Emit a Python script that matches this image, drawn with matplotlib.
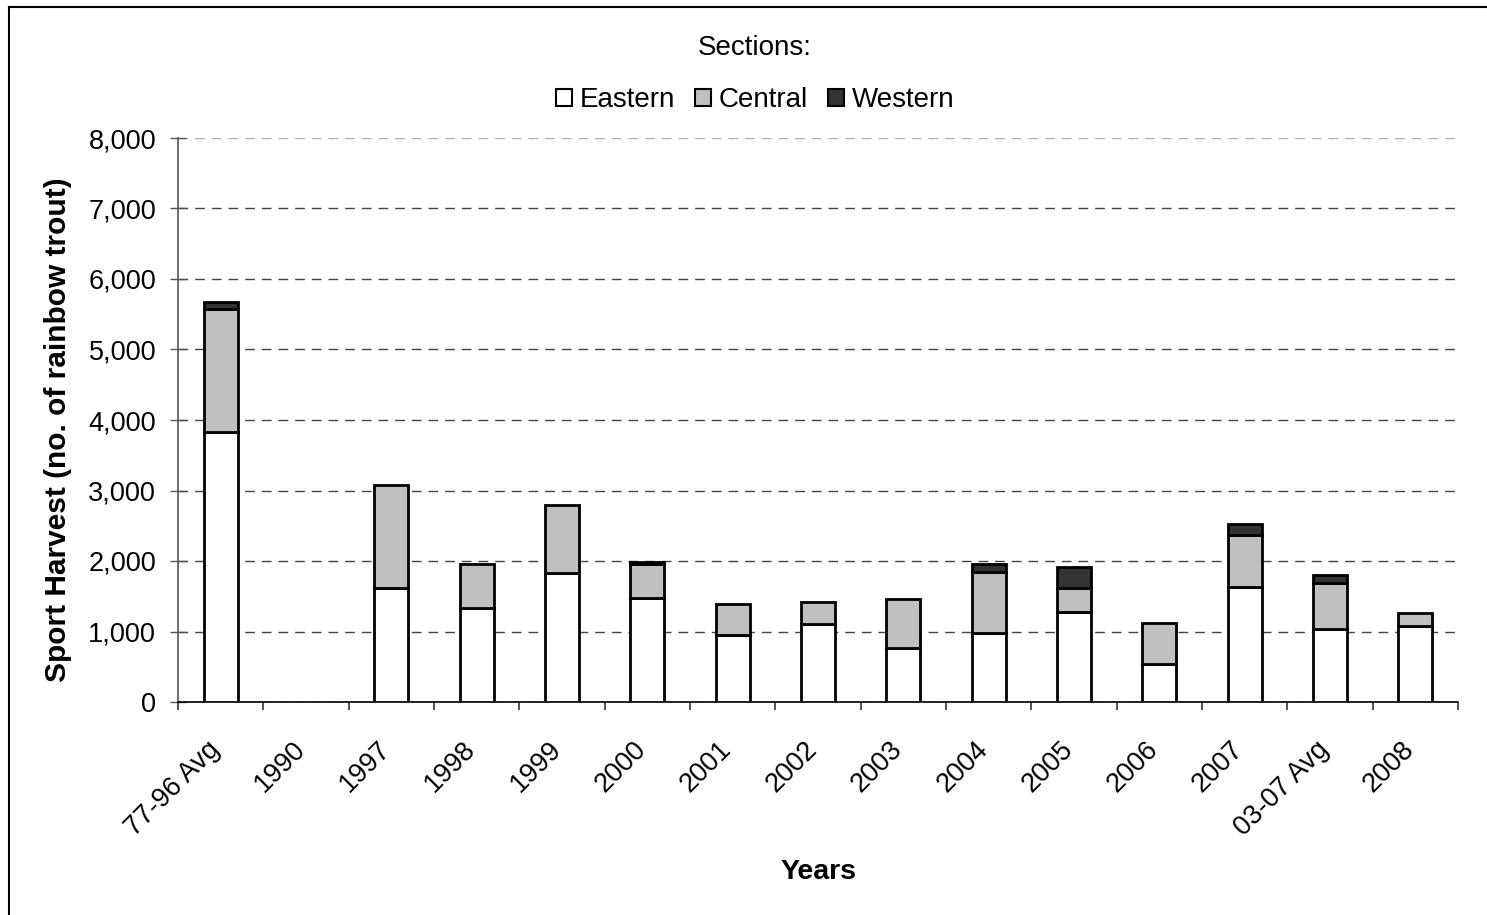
import matplotlib
matplotlib.use("Agg")
import matplotlib.pyplot as plt
import numpy as np
from matplotlib.patches import Patch
from matplotlib.lines import Line2D
from matplotlib.ticker import FuncFormatter, FixedLocator
from matplotlib.transforms import ScaledTranslation

plt.rcParams['font.family'] = ['Liberation Sans', 'DejaVu Sans']

categories = ["77-96 Avg", "1990", "1997", "1998", "1999", "2000", "2001", "2002",
              "2003", "2004", "2005", "2006", "2007", "03-07 Avg", "2008"]
eastern = [3825, 0, 1610, 1340, 1835, 1470, 945, 1105, 770, 985, 1280, 535, 1625, 1040, 1085]
central = [1745, 0, 1470, 620, 960, 485, 450, 315, 690, 865, 330, 585, 750, 645, 180]
western = [110, 0, 0, 0, 0, 30, 0, 0, 0, 105, 305, 0, 155, 115, 0]

series = [("Eastern", eastern, "white"),
          ("Central", central, "#c0c0c0"),
          ("Western", western, "#333333")]

W, H, DPI = 1487, 915, 100
fig = plt.figure(figsize=(W / DPI, H / DPI), dpi=DPI)
ax = fig.add_axes([178 / W, 1 - 702 / H, (1458 - 178) / W, (702 - 138) / H])

x = np.arange(len(categories))
bottom = np.zeros(len(categories))
for name, vals, color in series:
    vals = np.asarray(vals, dtype=float)
    keep = vals > 0
    ax.bar(x[keep], vals[keep], width=0.4, bottom=bottom[keep], color=color,
           edgecolor="black", linewidth=2.0, zorder=3)
    bottom += vals

ax.set_xlim(-0.5, len(categories) - 0.5)
ax.set_ylim(0, 8000)
ax.set_yticks(np.arange(0, 8001, 1000))
ax.yaxis.set_major_formatter(FuncFormatter(lambda v, p: f"{int(v):,}"))

ax.set_xticks(x)
ax.set_xticklabels(categories, rotation=45, ha="right", va="baseline",
                   rotation_mode="anchor")
shift = ScaledTranslation(-11 / DPI, 0, fig.dpi_scale_trans)
for lbl in ax.get_xticklabels():
    lbl.set_transform(lbl.get_transform() + shift)
ax.xaxis.set_minor_locator(FixedLocator(np.arange(-0.5, len(categories), 1.0)))
ax.tick_params(axis="x", which="major", length=0, pad=35, labelsize=19.5)
ax.tick_params(axis="x", which="minor", length=6, width=1.2, color="#333333", direction="out")
ax.tick_params(axis="y", direction="inout", length=11.5, width=1.0, color="#555555",
               pad=10, labelsize=19.5)

ax.grid(axis="y", color="#444444", linestyle=(0, (7, 5)), linewidth=1.0, zorder=0)
ax.set_axisbelow(True)
gl = ax.get_ygridlines()
if gl:
    gl[-1].set_color("#b0b0b0")

for s in ("top", "right"):
    ax.spines[s].set_visible(False)
ax.spines["left"].set_color("#555555")
ax.spines["left"].set_linewidth(1.2)
ax.spines["bottom"].set_color("black")
ax.spines["bottom"].set_linewidth(1.2)

ax.set_ylabel("Sport Harvest (no. of rainbow trout)", fontsize=21.5, fontweight="bold")
ax.yaxis.set_label_coords((72 - 178) / (1458 - 178), (702 - 430) / (702 - 138))
ax.set_xlabel("Years", fontsize=20.5, fontweight="bold")
ax.xaxis.set_label_coords((818 - 178) / (1458 - 178), -(859 - 702) / (702 - 138))

fig.text(755 / W, 1 - 48 / H, "Sections:", fontsize=20, ha="center", va="center")
handles = [Patch(facecolor=c, edgecolor="black", linewidth=1.5, label=n) for n, _, c in series]
fig.legend(handles=handles, loc="center", bbox_to_anchor=(755.5 / W, 1 - 100 / H), ncol=3,
           frameon=False, fontsize=20, handlelength=0.55, handleheight=0.55,
           handletextpad=0.3, columnspacing=0.72, borderpad=0)

# chart area border
fig.add_artist(Line2D([9 / W, 9 / W], [0, 1 - 7 / H], transform=fig.transFigure,
                      color="black", linewidth=1.5))
fig.add_artist(Line2D([9 / W, 1], [1 - 7 / H, 1 - 7 / H], transform=fig.transFigure,
                      color="black", linewidth=1.5))

fig.savefig("out.png", dpi=DPI)
